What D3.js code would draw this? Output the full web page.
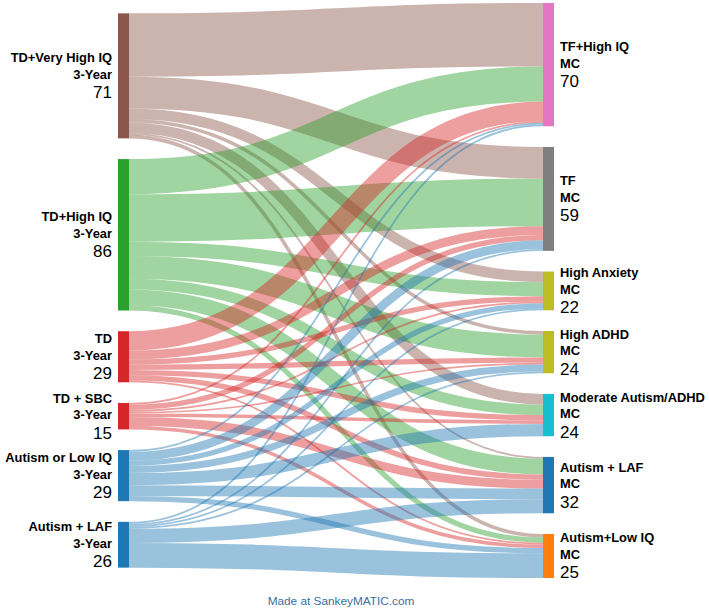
<!DOCTYPE html>
<html>
<head>
<meta charset="utf-8">
<script src="https://cdn.jsdelivr.net/npm/d3@7"></script>
<style>
  body { margin: 0; background: #fff; }
  svg { display: block; }
</style>
</head>
<body>
<svg id="chart"></svg>
<script>
// left column (3-Year groups)
var sourceNames = [
  ["TD+Very High IQ", "3-Year"],
  ["TD+High IQ", "3-Year"],
  ["TD", "3-Year"],
  ["TD + SBC", "3-Year"],
  ["Autism or Low IQ", "3-Year"],
  ["Autism + LAF", "3-Year"]
];
var sourceColors = ["#8c564b", "#2ca02c", "#d62728", "#d62728", "#1f77b4", "#1f77b4"];

// right column (MC groups)
var targetNames = [
  ["TF+High IQ", "MC"],
  ["TF", "MC"],
  ["High Anxiety", "MC"],
  ["High ADHD", "MC"],
  ["Moderate Autism/ADHD", "MC"],
  ["Autism + LAF", "MC"],
  ["Autism+Low IQ", "MC"]
];
var targetColors = ["#e377c2", "#7f7f7f", "#bcbd22", "#bcbd22", "#17becf", "#1f77b4", "#ff7f0e"];

// flows: one row per source, one column per target
var flowsVeryHighIQ = [36, 18, 6, 2, 6, 1, 2];
var flowsHighIQ     = [20, 27, 8, 13, 6, 9, 3];
var flowsTD         = [11, 5, 3, 3, 3, 3, 1];
var flowsSBC        = [1, 3, 1, 1, 2, 5, 2];
var flowsAutLowIQ   = [1, 5, 3, 4, 7, 6, 3];
var flowsAutLAF     = [1, 1, 1, 1, 0, 8, 14];
var flowRows = [flowsVeryHighIQ, flowsHighIQ, flowsTD, flowsSBC, flowsAutLowIQ, flowsAutLAF];

var screen = { width: 709, height: 611 };
var layout = { top: 3, bottom: 578, leftX: 118, rightX: 543, nodeWidth: 11, pad: 20.7 };

var drawSankey = function(svgSelector)
{
  var svg = d3.select(svgSelector)
              .attr("width", screen.width)
              .attr("height", screen.height);

  var sourceTotals = flowRows.map(function(r){ return d3.sum(r); });
  var targetTotals = targetNames.map(function(t, j){
    return d3.sum(flowRows, function(r){ return r[j]; });
  });
  var total = d3.sum(sourceTotals);

  // px per unit, set by the column with the most nodes
  var maxNodes = Math.max(sourceNames.length, targetNames.length);
  var span = layout.bottom - layout.top;
  var k = (span - (maxNodes - 1) * layout.pad) / total;
  var hScale = d3.scaleLinear().domain([0, total]).range([0, total * k]);

  var placeColumn = function(values) {
    var h = hScale(d3.sum(values)) + (values.length - 1) * layout.pad;
    var y = layout.top + (span - h) / 2;
    return values.map(function(v){
      var node = { y0: y, y1: y + hScale(v), value: v, offIn: 0, offOut: 0 };
      y = node.y1 + layout.pad;
      return node;
    });
  };

  var leftNodes = placeColumn(sourceTotals);
  var rightNodes = placeColumn(targetTotals);

  // links: sorted by target at source, by source at target
  var links = [];
  flowRows.forEach(function(row, i){
    row.forEach(function(v, j){
      if (v <= 0) return;
      var w = hScale(v);
      var s = leftNodes[i];
      var ys = s.y0 + s.offOut + w / 2;
      s.offOut += w;
      links.push({ i: i, j: j, w: w, ys: ys });
    });
  });
  for (var j = 0; j < rightNodes.length; j++) {
    links.filter(function(l){ return l.j === j; })
         .sort(function(a, b){ return a.i - b.i; })
         .forEach(function(l){
           var t = rightNodes[j];
           l.yt = t.y0 + t.offIn + l.w / 2;
           t.offIn += l.w;
         });
  }

  var linkPath = d3.linkHorizontal()
                   .source(function(l){ return [layout.leftX + layout.nodeWidth, l.ys]; })
                   .target(function(l){ return [layout.rightX, l.yt]; });

  svg.append("g")
     .attr("fill", "none")
     .selectAll("path")
     .data(links)
     .enter()
     .append("path")
     .attr("d", linkPath)
     .attr("stroke", function(l){ return sourceColors[l.i]; })
     .attr("stroke-opacity", 0.45)
     .attr("stroke-width", function(l){ return l.w; });

  // nodes
  svg.append("g").selectAll("rect")
     .data(leftNodes)
     .enter()
     .append("rect")
     .attr("x", layout.leftX)
     .attr("y", function(d){ return d.y0; })
     .attr("width", layout.nodeWidth)
     .attr("height", function(d){ return d.y1 - d.y0; })
     .attr("fill", function(d, i){ return sourceColors[i]; });

  svg.append("g").selectAll("rect")
     .data(rightNodes)
     .enter()
     .append("rect")
     .attr("x", layout.rightX)
     .attr("y", function(d){ return d.y0; })
     .attr("width", layout.nodeWidth)
     .attr("height", function(d){ return d.y1 - d.y0; })
     .attr("fill", function(d, i){ return targetColors[i]; });

  // labels
  var drawLabels = function(nodes, names, x, anchor) {
    var g = svg.append("g")
               .attr("font-family", "'Liberation Sans', Arial, Helvetica, sans-serif")
               .attr("fill", "#000")
               .attr("text-anchor", anchor);
    nodes.forEach(function(n, i){
      var cy = (n.y0 + n.y1) / 2;
      g.append("text").text(names[i][0])
       .attr("x", x).attr("y", cy - 13.5)
       .attr("font-size", 12.9).attr("font-weight", "bold");
      g.append("text").text(names[i][1])
       .attr("x", x).attr("y", cy + 3)
       .attr("font-size", 12.9).attr("font-weight", "bold");
      g.append("text").text(n.value)
       .attr("x", x).attr("y", cy + 22.5)
       .attr("font-size", 17);
    });
  };
  drawLabels(leftNodes, sourceNames, layout.leftX - 6, "end");
  drawLabels(rightNodes, targetNames, layout.rightX + layout.nodeWidth + 6, "start");

  svg.append("text")
     .text("Made at SankeyMATIC.com")
     .attr("x", 341)
     .attr("y", 605)
     .attr("text-anchor", "middle")
     .attr("font-family", "'Liberation Sans', Arial, Helvetica, sans-serif")
     .attr("font-size", 11.8)
     .attr("fill", "#3a6ea5");
};

drawSankey("#chart");
</script>
</body>
</html>
